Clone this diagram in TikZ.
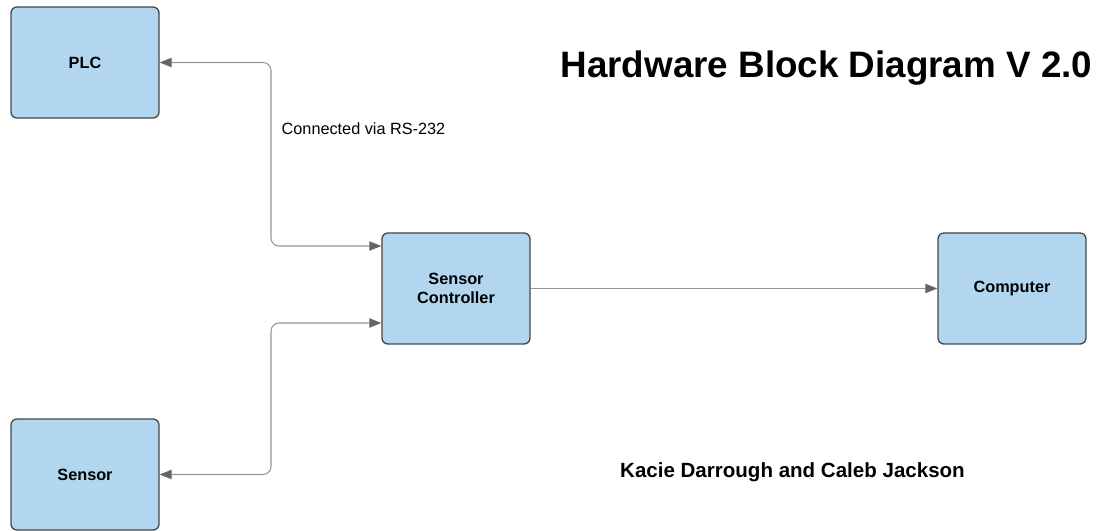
\documentclass[tikz,border=0pt]{standalone}
\usepackage{fontspec}
\setmainfont{Liberation Sans}
\usetikzlibrary{arrows.meta,calc}
\definecolor{boxfill}{RGB}{178,214,239}
\definecolor{boxline}{RGB}{70,70,70}
\definecolor{connline}{RGB}{150,150,150}
\definecolor{tipcol}{RGB}{100,100,100}
\tikzset{
  block/.style={draw=boxline, line width=1pt, fill=boxfill, rounded corners=4.5pt,
    minimum width=111pt, minimum height=83.25pt, align=center,
    font=\fontsize{12.2pt}{14.5pt}\selectfont\bfseries},
  tipstyle/.style={},
  conn/.style={draw=connline, line width=0.8pt, rounded corners=6pt,
    -{Triangle[length=9pt,width=7pt,color=tipcol]}},
  bothconn/.style={conn, {Triangle[length=9pt,width=7pt,color=tipcol]}-{Triangle[length=9pt,width=7pt,color=tipcol]}}
}
\begin{document}
\begin{tikzpicture}[x=0.75pt,y=-0.75pt]
\useasboundingbox[fill=white] (0,0) rectangle (1101,531);
\node[block] (plc) at (85,62.5) {PLC};
\node[block] (ctrl) at (456,288.5) {Sensor\\Controller};
\node[block] (comp) at (1012,288.5) {Computer};
\node[block] (sens) at (85,474.5) {Sensor};
\coordinate (bendx) at (271,0);
\coordinate (ctrlA) at ($(ctrl.west)+(0,-42.5)$);
\coordinate (ctrlB) at ($(ctrl.west)+(0,34.5)$);
\draw[bothconn] (plc.east) -- (bendx |- plc.east) -- (bendx |- ctrlA) -- (ctrlA);
\draw[bothconn] (sens.east) -- (bendx |- sens.east) -- (bendx |- ctrlB) -- (ctrlB);
\draw[conn] (ctrl.east) -- (comp.west);
\node[font=\fontsize{12.2pt}{14pt}\selectfont] (lbl) at (363.5,129) {Connected via RS-232};
\node[font=\fontsize{27.6pt}{32pt}\selectfont\bfseries] (title) at (826.5,68) {Hardware Block Diagram V 2.0};
\node[font=\fontsize{15.4pt}{18pt}\selectfont\bfseries] (auth) at (792.5,472) {Kacie Darrough and Caleb Jackson};
\end{tikzpicture}
\end{document}
